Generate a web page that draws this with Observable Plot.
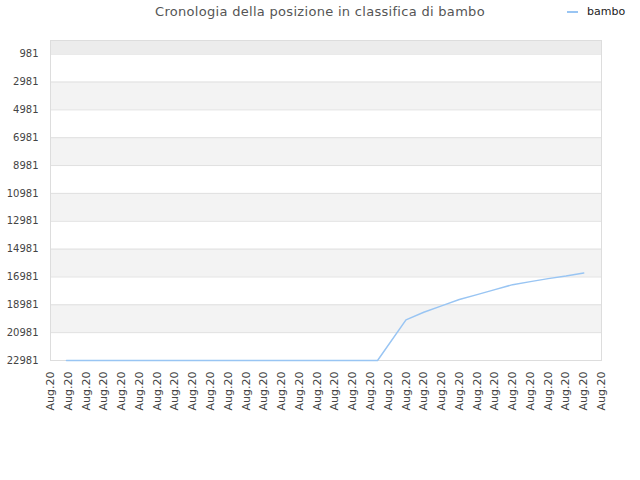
<!DOCTYPE html>
<html>
<head>
<meta charset="utf-8">
<script src="https://cdn.jsdelivr.net/npm/d3@7"></script>
<script src="https://cdn.jsdelivr.net/npm/@observablehq/plot@0.6"></script>
<style>
  html, body { margin: 0; padding: 0; background: #fff; }
  #wrap { position: relative; width: 640px; height: 480px; font-family: "DejaVu Sans", sans-serif; }
  #title { position: absolute; top: 4px; left: 0; width: 640px; text-align: center; font-size: 13px; letter-spacing: 0.3px; color: #555; }
  #legend { position: absolute; top: 5px; left: 567px; font-size: 11px; color: #222; display: flex; align-items: center; }
  #legend .sw { width: 11px; height: 2px; background: #99c5f3; margin-right: 9px; }
  #chart { position: absolute; top: 0; left: 0; }
</style>
</head>
<body>
<div id="wrap">
  <div id="chart"></div>
  <div id="title">Cronologia della posizione in classifica di bambo</div>
  <div id="legend"><span class="sw"></span><span>bambo</span></div>
</div>
<script>
const seriesName = "bambo";
const xTickPositions = d3.range(0, 32);
const xTickLabel = "Aug.20";
const yTicks = [981, 2981, 4981, 6981, 8981, 10981, 12981, 14981, 16981, 18981, 20981, 22981];
const dayPos = [0.9, 18.4, 20, 21, 22, 23, 24, 25, 26, 27, 28, 29, 30];
const ranks = [22981, 22981, 20066, 19519, 19059, 18605, 18252, 17892, 17533, 17317, 17101, 16914, 16698];

const data = dayPos.map((x, i) => ({x, rank: ranks[i]}));
const bandEdges = [0, ...yTicks];
const bands = bandEdges.slice(0, -1).map((v, i) => ({y1: v, y2: bandEdges[i + 1], i}));

const chart = Plot.plot({
  width: 640,
  height: 480,
  marginLeft: 50,
  marginRight: 39,
  marginTop: 40,
  marginBottom: 120,
  style: {fontFamily: "DejaVu Sans, sans-serif", fontSize: "11px", color: "#444", background: "#fff"},
  x: {domain: [0, 31], ticks: xTickPositions, tickFormat: () => xTickLabel, tickRotate: -90, tickSize: 0, tickPadding: 11, label: null},
  y: {domain: [0, 22981], reverse: true, ticks: yTicks, tickFormat: d => String(d), tickSize: 0, tickPadding: 12, label: null},
  marks: [
    Plot.rect(bands.filter(d => d.i === 0), {y1: "y1", y2: "y2", fill: "#ececec"}),
    Plot.rect(bands.filter(d => d.i > 0 && d.i % 2 === 0), {y1: "y1", y2: "y2", fill: "#f3f3f3"}),
    Plot.ruleY(yTicks, {stroke: "#e0e0e0", strokeWidth: 1}),
    Plot.frame({stroke: "#dddddd"}),
    Plot.line(data, {x: "x", y: "rank", stroke: "#99c5f3", strokeWidth: 1.5})
  ]
});
d3.select(chart).selectAll('g[aria-label="y-axis tick label"]').attr("font-size", 10);
document.getElementById("chart").appendChild(chart);
</script>
</body>
</html>
